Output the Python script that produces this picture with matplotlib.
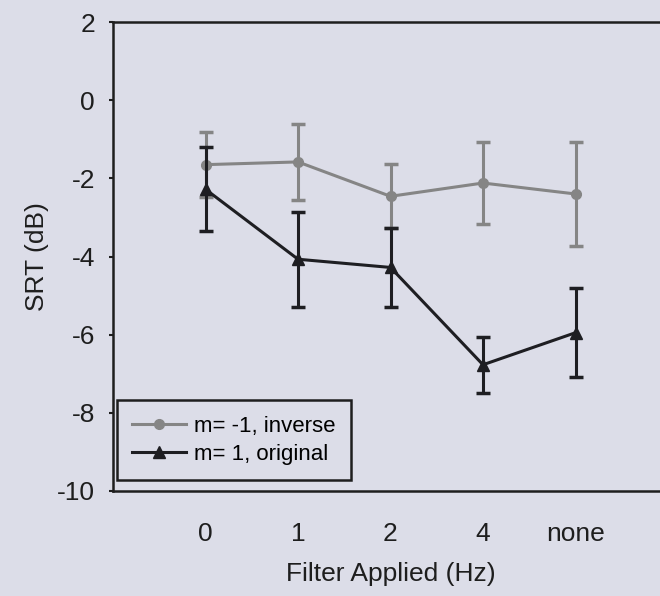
import matplotlib.pyplot as plt
from matplotlib.lines import Line2D

plt.rcParams['font.family'] = ['Liberation Sans', 'DejaVu Sans']
plt.rcParams['axes.unicode_minus'] = False

filters = ['0', '1', '2', '4', 'none']
inverse_srt = [-1.65, -1.58, -2.46, -2.12, -2.40]
inverse_err = [0.83, 0.98, 0.82, 1.05, 1.33]
original_srt = [-2.28, -4.07, -4.28, -6.77, -5.95]
original_err = [1.08, 1.22, 1.01, 0.72, 1.14]

bg = '#dcdde8'
gray = '#858585'
dark = '#1e1e22'
fig = plt.figure(figsize=(6.6, 5.96), dpi=100, facecolor=bg)
ax = fig.add_axes([113 / 660, 1 - 491 / 596, 555 / 660, 469 / 596])
ax.set_facecolor(bg)

x = list(range(len(filters)))
ax.errorbar(x, inverse_srt, yerr=inverse_err, color=gray, marker='o',
            markersize=7, linewidth=2.2, elinewidth=2.2, capsize=5, capthick=2.5,
            zorder=2)
ax.errorbar(x, original_srt, yerr=original_err, color=dark, marker='^',
            markersize=8, linewidth=2.2, elinewidth=2.2, capsize=5, capthick=2.5,
            zorder=3)

ax.set_xlim(-1, 5)
ax.set_ylim(-10, 2)
ax.set_yticks([2, 0, -2, -4, -6, -8, -10])
ax.set_xticks(x)
ax.set_xticklabels(filters)
ax.tick_params(axis='x', length=0, pad=22, labelsize=19, colors='#1e1e1e')
ax.tick_params(axis='y', length=3, width=1.5, pad=10, labelsize=19, colors='#1e1e1e')

for s in ax.spines.values():
    s.set_linewidth(1.8)
    s.set_color('#1e1e1e')
ax.spines['right'].set_visible(False)

ax.set_xlabel('Filter Applied (Hz)', fontsize=19, labelpad=12, color='#1e1e1e')
ax.set_ylabel('SRT (dB)', fontsize=19, labelpad=6, color='#1e1e1e')

handles = [Line2D([], [], color=gray, marker='o', markersize=7, linewidth=2.2),
           Line2D([], [], color=dark, marker='^', markersize=8, linewidth=2.2)]
labels = ['m= -1, inverse', 'm= 1, original']
leg = ax.legend(handles, labels, loc='lower left', bbox_to_anchor=(0.007, 0.023),
                fontsize=16, frameon=True, fancybox=False, borderpad=0.7,
                handlelength=2.4, labelspacing=0.3, handletextpad=0.35,
                facecolor=bg, framealpha=1, borderaxespad=0)
leg.get_frame().set_edgecolor('#1e1e1e')
leg.get_frame().set_linewidth(1.8)

plt.savefig('out.png', dpi=100, facecolor=bg)
